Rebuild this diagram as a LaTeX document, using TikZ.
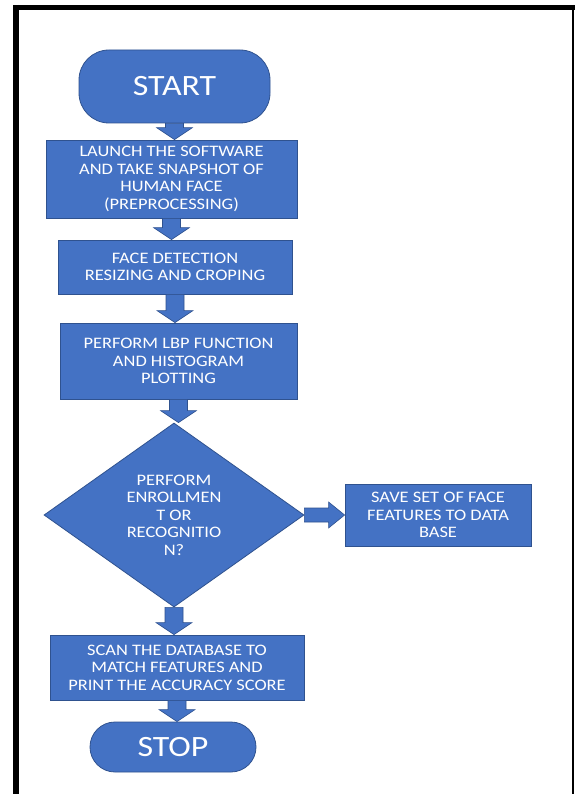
\documentclass[tikz,border=0pt]{standalone}
\usepackage{fontspec}
\setmainfont{Carlito}[FakeStretch=1.15]
\usetikzlibrary{shapes.geometric,calc}
\definecolor{boxblue}{HTML}{4472C4}
\definecolor{edgeblue}{HTML}{2F528F}
\newcommand{\dnarrow}[2]{%
  \path[blockarrow] let \p1=(#1.south), \p2=(#2.north) in
  (\x1-9pt,\y1) -- (\x1+9pt,\y1) -- (\x1+9pt,\y2+12pt) -- (\x1+18pt,\y2+12pt)
  -- (\x1,\y2) -- (\x1-18pt,\y2+12pt) -- (\x1-9pt,\y2+12pt) -- cycle;}
\newcommand{\rtarrow}[2]{%
  \path[blockarrow] let \p1=(#1.east), \p2=(#2.west) in
  (\x1,\y1+7pt) -- (\x2-16pt,\y1+7pt) -- (\x2-16pt,\y1+13pt) -- (\x2,\y1)
  -- (\x2-16pt,\y1-13pt) -- (\x2-16pt,\y1-7pt) -- (\x1,\y1-7pt) -- cycle;}
\begin{document}
\begin{tikzpicture}[x=1pt,y=-1pt,
  every node/.style={text=white},
  boxnode/.style={rectangle, fill=boxblue, draw=edgeblue, line width=0.8pt,
    inner sep=0pt, align=center, font=\fontsize{16}{17.5}\selectfont},
  termnode/.style={boxnode, font=\fontsize{29.5}{31}\selectfont},
  decnode/.style={diamond, fill=boxblue, draw=edgeblue, line width=0.8pt,
    inner sep=0pt, align=center, font=\fontsize{16}{17.5}\selectfont},
  blockarrow/.style={fill=boxblue, draw=edgeblue, line width=0.6pt, line join=miter}]
\useasboundingbox (0,0) rectangle (575,794);
\fill[white] (0,0) rectangle (575,794);
% frame
\draw[line width=6pt] (16,5) -- (16,794);
\draw[line width=5pt] (13,7.5) -- (574.5,7.5);
\draw[line width=2.5pt] (573,5) -- (573,794);
% nodes
\node[termnode, rounded corners=30pt, minimum width=191pt, minimum height=73pt] (start) at (174.5,86.5) {START};
\node[boxnode, minimum width=251pt, minimum height=78pt] (launch) at (171.5,179)
  {LAUNCH THE SOFTWARE\\AND TAKE SNAPSHOT OF\\HUMAN FACE\\(PREPROCESSING)};
\node[boxnode, minimum width=234pt, minimum height=54pt] (detect) at (175,267)
  {FACE DETECTION\\RESIZING AND CROPING};
\node[boxnode, minimum width=237pt, minimum height=76pt] (lbp) at (178.5,361)
  {PERFORM LBP FUNCTION\\AND HISTOGRAM\\PLOTTING};
\node[decnode, minimum width=260pt, minimum height=184pt] (dec) at (174,515)
  {PERFORM\\ENROLLMEN\\T OR\\RECOGNITIO\\N?};
\node[boxnode, minimum width=186pt, minimum height=62pt] (save) at (438,515)
  {SAVE SET OF FACE\\FEATURES TO DATA\\BASE};
\node[boxnode, minimum width=254pt, minimum height=65pt] (scan) at (177,667.5)
  {SCAN THE DATABASE TO\\MATCH FEATURES AND\\PRINT THE ACCURACY SCORE};
\node[termnode, rounded corners=25pt, minimum width=166pt, minimum height=50pt] (stop) at (173,747) {STOP};
% arrows
\dnarrow{start}{launch}
\dnarrow{launch}{detect}
\dnarrow{detect}{lbp}
\dnarrow{lbp}{dec}
\dnarrow{dec}{scan}
\dnarrow{scan}{stop}
\rtarrow{dec}{save}
\end{tikzpicture}
\end{document}
